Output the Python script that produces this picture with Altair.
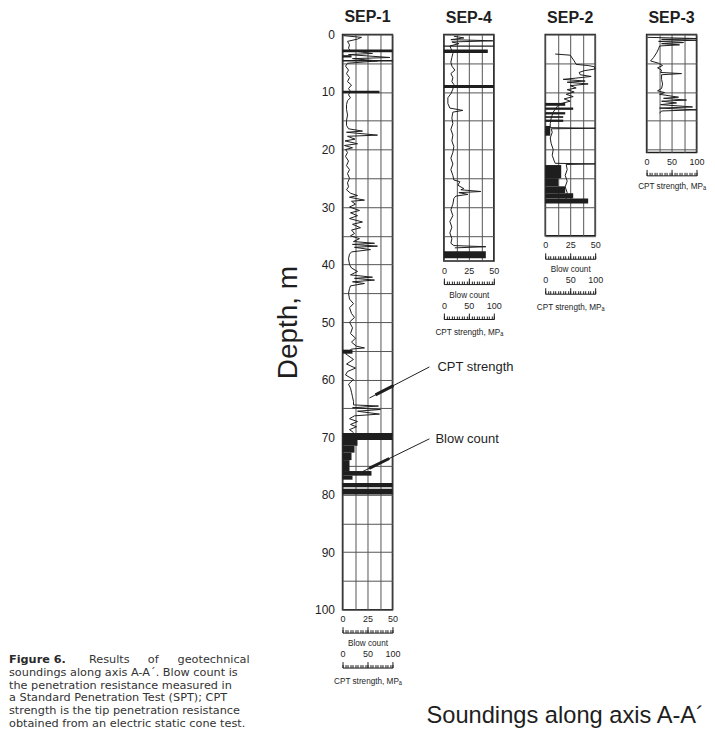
import altair as alt
import pandas as pd

FONT = "Liberation Sans"
CAPTION_FONT = "DejaVu Sans"
INK = "#1e1e1e"
GRID = "#555555"
PX_PER_M = 5.76
PANEL_W = 50

# ---------------- data ----------------
panel_names = ["SEP-1", "SEP-4", "SEP-2", "SEP-3"]
panel_depths = [100, 39.4, 35, 20.5]

blow_major = [0, 25, 50]
blow_minor = [i * 2.5 for i in range(21)]
cpt_major = [0, 50, 100]
cpt_minor = [i * 5 for i in range(21)]
grid_cpt = [0, 25, 50, 75, 100]

# CPT strength profiles: (depth m, CPT MPa)
sep1_cpt = [(0.2, 2), (0.5, 38), (0.8, 30), (1.2, 10), (1.8, 14), (2.4, 12), (2.8, 16), (3.3, 60),
            (3.5, 12), (4.0, 95), (4.2, 20), (4.6, 70), (5.0, 10), (5.5, 6), (6.2, 12), (6.8, 8),
            (7.5, 14), (8.2, 10), (8.8, 18), (9.4, 12), (9.9, 16), (10.5, 12), (11.0, 16), (11.5, 10),
            (12.2, 8), (13.0, 8), (14.0, 10), (15.0, 8), (15.8, 8), (16.4, 12), (16.8, 40), (17.0, 8),
            (17.5, 70), (17.7, 10), (18.2, 25), (18.5, 5), (19.0, 30), (19.3, 4), (19.7, 20), (20.0, 6),
            (20.5, 10), (21.2, 6), (22.0, 12), (22.8, 8), (23.5, 14), (24.2, 10), (25.0, 14), (25.8, 10),
            (26.5, 12), (27.0, 8), (27.6, 16), (28.0, 30), (28.3, 14), (28.8, 44), (29.0, 18), (29.5, 26),
            (30.0, 14), (30.6, 34), (31.0, 16), (31.5, 30), (32.0, 14), (32.6, 40), (33.0, 20), (33.6, 36),
            (34.0, 18), (34.6, 24), (35.0, 16), (35.5, 34), (36.0, 22), (36.3, 64), (36.5, 20), (36.8, 70),
            (37.0, 24), (37.4, 56), (37.8, 18), (38.2, 14), (39.0, 12), (40.0, 14), (40.6, 18), (41.2, 30),
            (41.8, 16), (42.2, 60), (42.4, 24), (42.7, 64), (43.0, 20), (43.3, 44), (43.7, 16), (44.2, 14),
            (45.0, 12), (46.0, 14), (46.8, 22), (47.5, 14), (48.5, 18), (49.2, 24), (50.0, 14), (51.0, 20),
            (52.0, 16), (52.8, 26), (53.5, 18), (54.2, 28), (54.5, 44), (54.7, 18), (55.5, 6), (56.5, 22),
            (57.3, 8), (58.0, 26), (58.6, 10), (59.2, 6), (60.0, 22), (60.8, 12), (61.5, 16), (62.2, 18),
            (63.0, 20), (63.8, 22), (64.4, 22), (64.6, 72), (64.9, 20), (65.2, 76), (65.5, 30), (66.0, 74),
            (66.3, 24), (66.8, 14), (67.3, 30), (67.8, 16), (68.2, 28), (68.7, 14), (69.2, 22)]

sep4_cpt = [(0.3, 20), (0.6, 40), (0.9, 14), (1.1, 98), (1.3, 16), (1.6, 30), (2.0, 12), (2.4, 14),
            (3.3, 18), (4.0, 16), (4.8, 14), (5.5, 16), (6.2, 22), (6.8, 14), (7.5, 18), (8.2, 16),
            (8.7, 20), (9.5, 18), (10.3, 14), (11.0, 8), (12.0, 8), (12.8, 12), (13.2, 38), (13.5, 18),
            (14.5, 16), (15.5, 18), (16.5, 14), (17.5, 18), (18.5, 16), (19.5, 20), (20.5, 18), (21.5, 14),
            (22.5, 18), (23.5, 14), (24.5, 18), (25.3, 20), (25.6, 32), (26.2, 28), (26.8, 40), (27.0, 34),
            (27.3, 74), (27.5, 30), (27.8, 48), (28.1, 24), (28.5, 20), (29.5, 18), (30.5, 14), (31.5, 18),
            (32.5, 12), (33.5, 16), (34.5, 12), (35.5, 16), (36.3, 14), (36.7, 20), (36.9, 84), (37.1, 22)]

sep2_cpt = [(3.4, 20), (3.6, 50), (4.6, 58), (5.2, 62), (5.4, 86), (5.6, 98), (6.0, 100), (6.3, 78),
            (6.6, 68), (7.0, 70), (7.3, 92), (7.6, 60), (7.8, 36), (8.1, 80), (8.3, 44), (8.6, 86),
            (8.9, 50), (9.3, 62), (9.6, 44), (10.0, 58), (10.4, 42), (10.8, 56), (11.2, 38), (11.6, 50),
            (12.0, 32), (12.5, 24), (13.5, 16), (14.5, 12), (15.5, 10), (16.2, 10), (16.3, 100), (16.4, 12),
            (17.0, 14), (18.0, 10), (19.0, 12), (20.0, 16), (21.0, 14), (22.0, 18), (22.4, 20), (22.5, 100),
            (22.6, 42), (23.5, 44), (24.5, 40), (25.5, 44), (26.5, 40), (27.5, 44), (28.5, 42), (29.2, 40)]

sep3_cpt = [(0.5, 2), (0.7, 100), (0.85, 30), (1.0, 100), (1.2, 24), (1.4, 74), (1.6, 30), (1.8, 66),
            (2.0, 26), (2.5, 24), (3.2, 20), (4.0, 14), (4.6, 8), (5.0, 24), (5.4, 32), (5.8, 22),
            (6.2, 30), (6.6, 28), (6.8, 70), (7.0, 30), (7.8, 30), (8.6, 32), (9.4, 30), (9.8, 22),
            (10.1, 36), (10.4, 26), (10.9, 64), (11.1, 34), (11.4, 80), (11.6, 30), (11.9, 60), (12.2, 28),
            (12.6, 92), (12.8, 26), (13.1, 100), (13.3, 30), (13.7, 26)]

# SPT blow count intervals: (top depth, bottom depth, blow count)
sep1_blow = [(2.6, 3.1, 50), (3.6, 4.0, 9), (4.45, 4.7, 50), (9.8, 10.2, 37), (54.8, 55.5, 10),
             (69.3, 70.5, 50), (70.5, 71.5, 15), (71.5, 72.7, 12), (72.7, 74.0, 9), (74.0, 75.9, 7),
             (75.9, 76.7, 29), (76.7, 77.4, 10), (78.0, 78.7, 50), (79.0, 80.0, 50)]
sep4_blow = [(1.9, 2.15, 50), (2.6, 3.2, 44), (8.8, 9.3, 50), (37.7, 38.9, 42)]
sep2_blow = [(11.9, 12.4, 20), (12.7, 13.1, 28), (13.5, 13.9, 20), (14.2, 14.5, 18), (14.8, 15.2, 18),
             (15.9, 17.6, 5), (22.7, 25.0, 16), (25.0, 26.4, 13), (26.4, 27.6, 20), (27.6, 28.5, 28),
             (28.5, 29.4, 43)]

# annotations (in SEP-1 CPT / depth units)
annotation_labels = ["CPT strength", "Blow count"]
annotation_label_cpt = [190, 186]
annotation_depth = [57.8, 70.3]
leader_from_cpt = [174, 174]
leader_to_cpt = [54, 40]
leader_to_depth = [63.2, 76.0]

caption_bold = "Figure 6."
caption_first_words = ["Results", "of", "geotechnical"]
caption_rest = [
    "soundings along axis A-A´. Blow count is",
    "the penetration resistance measured in",
    "a Standard Penetration Test (SPT); CPT",
    "strength is the tip penetration resistance",
    "obtained from an electric static cone test.",
]
bottom_title = "Soundings along axis A-A´"


# ---------------- helpers ----------------
def axis_major(values, base):
    return alt.Axis(orient="bottom", values=values, offset=base + 17, ticks=True, tickSize=6,
                    tickColor=INK, tickWidth=1, domain=False, grid=False, labelPadding=-11,
                    labelBaseline="alphabetic", labelFlush=False, labelOverlap=False,
                    labelFont=FONT, labelFontSize=9, labelColor=INK, title=None)


def axis_minor(values, base):
    return alt.Axis(orient="bottom", values=values, offset=base + 20, ticks=True, tickSize=3,
                    tickColor=INK, tickWidth=1, domain=False, grid=False, labels=False, title=None)


def axis_base(title, base):
    return alt.Axis(orient="bottom", offset=base + 23, ticks=False, labels=False, grid=False,
                    domain=True, domainColor=INK, domainWidth=1, title=title,
                    titlePadding=7 if base == 0 else 10,
                    titleFont=FONT, titleFontSize=8.2, titleFontWeight="normal", titleColor=INK)


def ghost(df, field, ycol, scale, axis, yscale):
    return alt.Chart(df).mark_point(opacity=0, size=1).encode(
        x=alt.X(f"{field}:Q", scale=scale, axis=axis),
        y=alt.Y(f"{ycol}:Q", scale=yscale, axis=None),
    )


def text_at(text, x, y, align="left", size=11.3, weight="normal", font=CAPTION_FONT,
            color="#333333", line_height=None):
    kw = dict(align=align, baseline="alphabetic", font=font, fontSize=size,
              fontWeight=weight, color=color)
    if line_height is not None:
        kw.update(lineBreak="\n", lineHeight=line_height)
    return alt.Chart(pd.DataFrame({"t": [text]})).mark_text(**kw).encode(
        x=alt.value(x), y=alt.value(y), text="t:N")


def sep1_extras(cscale, yscale):
    ann = pd.DataFrame({"label": annotation_labels, "x": annotation_label_cpt,
                        "depth": annotation_depth})
    lead = pd.DataFrame({"x1": leader_from_cpt, "y1": annotation_depth,
                         "x2": leader_to_cpt, "y2": leader_to_depth})
    wedge = pd.DataFrame({
        "x1": [b + 0.1 * (a - b) for a, b in zip(leader_from_cpt, leader_to_cpt)],
        "y1": [b + 0.1 * (a - b) for a, b in zip(annotation_depth, leader_to_depth)],
        "x2": [b + 0.4 * (a - b) for a, b in zip(leader_from_cpt, leader_to_cpt)],
        "y2": [b + 0.4 * (a - b) for a, b in zip(annotation_depth, leader_to_depth)],
    })
    text_layer = alt.Chart(ann).mark_text(align="left", baseline="middle", font=FONT,
                                          fontSize=13, color=INK).encode(
        x=alt.X("x:Q", scale=cscale, axis=None),
        y=alt.Y("depth:Q", scale=yscale, axis=None),
        text="label:N",
    )
    lead_layer = alt.Chart(lead).mark_rule(color=INK, strokeWidth=1).encode(
        x=alt.X("x1:Q", scale=cscale, axis=None), x2="x2:Q",
        y=alt.Y("y1:Q", scale=yscale, axis=None), y2="y2:Q",
    )
    wedge_layer = alt.Chart(wedge).mark_rule(color=INK, strokeWidth=3).encode(
        x=alt.X("x1:Q", scale=cscale, axis=None), x2="x2:Q",
        y=alt.Y("y1:Q", scale=yscale, axis=None), y2="y2:Q",
    )
    # caption, positioned in pixels relative to the SEP-1 plot origin
    cap = [
        text_at(caption_bold, -334, 629.5, weight="bold", color="#2a2a2a"),
        text_at(caption_first_words[0], -254, 629.5),
        text_at(caption_first_words[1], -195, 629.5),
        text_at(caption_first_words[2], -93, 629.5, align="right"),
        text_at("\n".join(caption_rest), -334, 642.3, line_height=12.8),
        text_at(bottom_title, 223, 690, align="center", size=23.7, font=FONT, color=INK),
    ]
    return [lead_layer, wedge_layer, text_layer] + cap


def make_panel(name, dmax, cpt_pairs, blow_rows, show_depth_axis, title_offset, extras=None):
    height = dmax * PX_PER_M
    yscale = alt.Scale(domain=[0, dmax], reverse=True, nice=False, zero=False)
    cscale = alt.Scale(domain=[0, 100], nice=False, zero=False)
    bscale = alt.Scale(domain=[0, 50], nice=False, zero=False)
    cpt_df = pd.DataFrame(cpt_pairs, columns=["depth", "cpt"])
    cpt_df["seq"] = range(len(cpt_df))
    depth_grid = [d for d in range(0, int(dmax) + 1, 5)]
    if show_depth_axis:
        yaxis = alt.Axis(orient="left", values=depth_grid, grid=True, gridColor=GRID, gridWidth=1,
                         ticks=False, domain=False,
                         labelExpr="datum.value % 10 === 0 ? datum.label : ''",
                         labelPadding=8, labelFont=FONT, labelFontSize=12, labelColor=INK,
                         labelFlush=False, title="Depth, m", titleFont=FONT, titleFontSize=28,
                         titleFontWeight="normal", titleColor=INK, titlePadding=12)
    else:
        yaxis = alt.Axis(orient="left", values=depth_grid, grid=True, gridColor=GRID, gridWidth=1,
                         ticks=False, domain=False, labels=False, title=None)
    grid_layer = alt.Chart(cpt_df).mark_point(opacity=0, size=1).encode(
        x=alt.X("cpt:Q", scale=cscale,
                axis=alt.Axis(orient="top", values=grid_cpt, grid=True, gridColor=GRID,
                              gridWidth=1, ticks=False, labels=False, domain=False, title=None)),
        y=alt.Y("depth:Q", scale=yscale, axis=yaxis),
    )
    layers = [grid_layer]
    cpt_base = 0
    if blow_rows:
        blow_df = pd.DataFrame(blow_rows, columns=["top", "bottom", "blow"])
        layers.append(alt.Chart(blow_df).mark_rect(color=INK).encode(
            x=alt.X("blow:Q", scale=bscale, axis=axis_major(blow_major, 0)),
            x2=alt.X2(datum=0),
            y=alt.Y("top:Q", scale=yscale, axis=None),
            y2="bottom:Q",
        ))
        layers.append(ghost(blow_df, "blow", "top", bscale, axis_minor(blow_minor, 0), yscale))
        layers.append(ghost(blow_df, "blow", "top", bscale, axis_base("Blow count", 0), yscale))
        cpt_base = 35
    layers.append(alt.Chart(cpt_df).mark_line(color=INK, strokeWidth=1).encode(
        x=alt.X("cpt:Q", scale=cscale, axis=axis_major(cpt_major, cpt_base)),
        y=alt.Y("depth:Q", scale=yscale, axis=None),
        order="seq:Q",
    ))
    layers.append(ghost(cpt_df, "cpt", "depth", cscale, axis_minor(cpt_minor, cpt_base), yscale))
    layers.append(ghost(cpt_df, "cpt", "depth", cscale,
                        axis_base("CPT strength, MPₐ", cpt_base), yscale))
    if extras is not None:
        layers += extras(cscale, yscale)
    return alt.layer(*layers).resolve_scale(x="independent").resolve_axis(
        x="independent", y="independent").properties(
        width=PANEL_W, height=height,
        title=alt.TitleParams(text=name, fontSize=16, fontWeight="bold", font=FONT,
                              color=INK, offset=title_offset, anchor="middle", frame="group"),
    )


p1 = make_panel(panel_names[0], panel_depths[0], sep1_cpt, sep1_blow, True, 3, sep1_extras)
p4 = make_panel(panel_names[1], panel_depths[1], sep4_cpt, sep4_blow, False, 8)
p2 = make_panel(panel_names[2], panel_depths[2], sep2_cpt, sep2_blow, False, 8)
p3 = make_panel(panel_names[3], panel_depths[3], sep3_cpt, None, False, 8)

chart = alt.hconcat(p1, p4, p2, p3, spacing=51.5, bounds="flush").properties(
    padding=0
).configure_view(stroke=INK, strokeWidth=1.5)

chart.save("out.html", embed_options={"renderer": "svg", "actions": False})
